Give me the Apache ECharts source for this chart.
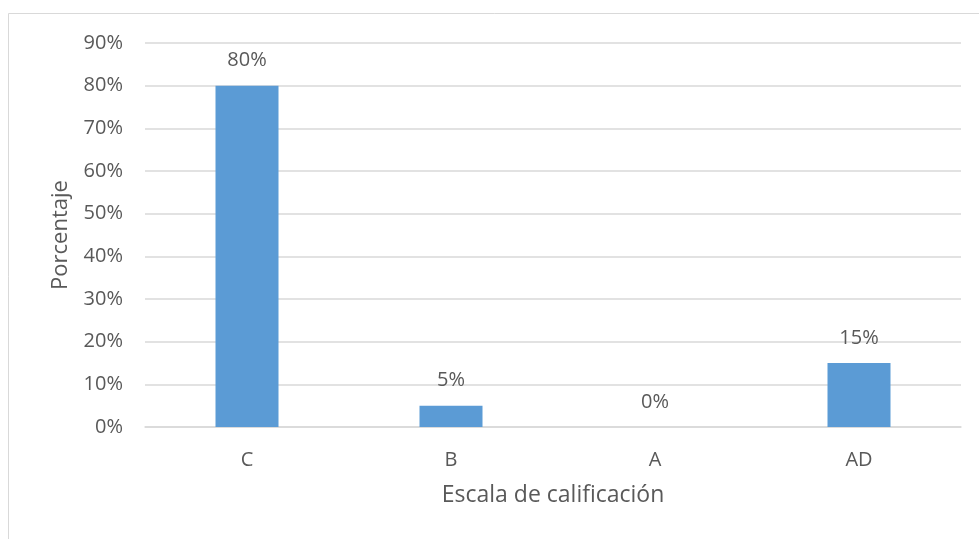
<!DOCTYPE html>
<html>
<head>
<meta charset="utf-8">
<script src="https://cdn.jsdelivr.net/npm/echarts@6/dist/echarts.min.js"></script>
<style>html,body{margin:0;padding:0;background:#fff}#c{width:979px;height:539px}</style>
</head>
<body>
<div id="c"></div>
<script>
const categories = ['C', 'B', 'A', 'AD'];
const values = [80, 5, 0, 15];
const yTicks = [0, 10, 20, 30, 40, 50, 60, 70, 80, 90];

const font = '"Open Sans", "Noto Sans", sans-serif';
const textColor = '#595959';
const chart = echarts.init(document.getElementById('c'));
chart.setOption({
  animation: false,
  backgroundColor: '#fff',
  graphic: [{
    type: 'rect',
    shape: { x: 8.5, y: 13.5, width: 1000, height: 600 },
    style: { fill: 'none', stroke: '#d9d9d9', lineWidth: 1 },
    silent: true, z: -1
  }],
  grid: { left: 145, right: 18, top: 43, bottom: 112, containLabel: false },
  xAxis: {
    type: 'category',
    data: categories,
    name: 'Escala de calificación',
    nameLocation: 'middle',
    nameGap: 57,
    nameTextStyle: { fontFamily: font, fontSize: 23, color: textColor },
    axisLine: { show: true, lineStyle: { color: '#d9d9d9', width: 1.5 } },
    axisTick: { show: false },
    axisLabel: { fontFamily: font, fontSize: 20, color: textColor, margin: 23 }
  },
  yAxis: {
    type: 'value',
    min: 0, max: 90, interval: 10,
    name: 'Porcentaje',
    nameLocation: 'middle',
    nameGap: 73,
    nameTextStyle: { fontFamily: font, fontSize: 22, color: textColor },
    axisLine: { show: false },
    axisTick: { show: false },
    splitLine: { lineStyle: { color: '#d9d9d9', width: 1.5 } },
    axisLabel: { fontFamily: font, fontSize: 20, color: textColor, margin: 22,
      formatter: v => yTicks.indexOf(v) >= 0 ? v + '%' : '' }
  },
  series: [{
    type: 'bar',
    data: values,
    barWidth: 63,
    itemStyle: { color: '#5b9bd5' },
    label: {
      show: true, position: 'top', distance: 15,
      fontFamily: font, fontSize: 20, color: textColor,
      formatter: p => p.value + '%'
    }
  }]
});
</script>
</body>
</html>
